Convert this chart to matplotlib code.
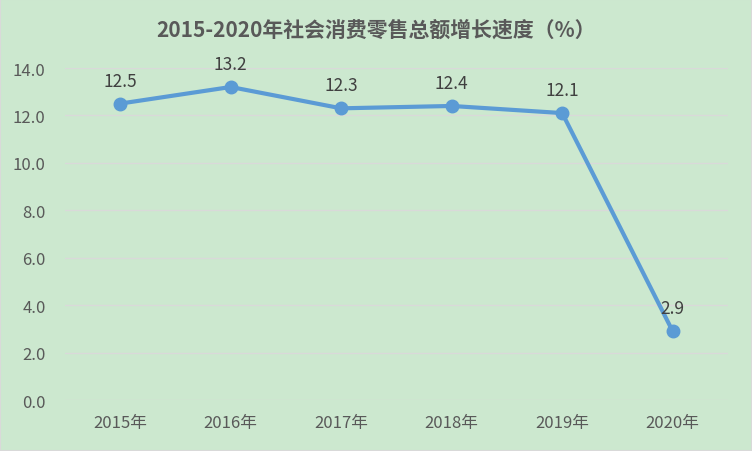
import matplotlib
matplotlib.use("Agg")
import matplotlib.pyplot as plt

plt.rcParams['font.family'] = ['Noto Sans CJK SC', 'DejaVu Sans']

years = ["2015年", "2016年", "2017年", "2018年", "2019年", "2020年"]
growth = [12.5, 13.2, 12.3, 12.4, 12.1, 2.9]
title = "2015-2020年社会消费零售总额增长速度（%）"

bg = "#CCE8CF"
fig = plt.figure(figsize=(7.52, 4.52), dpi=100, facecolor=bg)
fig.patches.append(plt.Rectangle((0, 0), 1, 1, transform=fig.transFigure,
                                 fill=False, edgecolor="#D9D9D9", linewidth=1.5))
ax = fig.add_axes([0.0864, 0.1128, 0.8816, 0.7345])
ax.set_facecolor(bg)

x = range(len(years))
ax.plot(x, growth, color="#5B9BD5", linewidth=3, marker="o", markersize=9, zorder=3)
for xi, v in zip(x, growth):
    ax.annotate(f"{v:.1f}", (xi, v), xytext=(0, 10), textcoords="offset points",
                ha="center", va="bottom", fontsize=12.5, color="#404040")

ax.set_xlim(-0.5, len(years) - 0.5)
ax.set_ylim(0, 14)
ax.set_yticks(range(0, 15, 2))
ax.set_yticklabels([f"{t:.1f}" for t in range(0, 15, 2)])
ax.set_xticks(list(x))
ax.set_xticklabels(years)
ax.tick_params(axis="both", length=0, labelsize=12, labelcolor="#595959")
ax.tick_params(axis="x", pad=10)
ax.tick_params(axis="y", pad=14)
ax.grid(axis="y", color="#D9D9D9", linewidth=1)
ax.set_axisbelow(True)
for s in ax.spines.values():
    s.set_visible(False)

fig.text(0.5, 0.934, title, ha="center", va="center", fontsize=15,
         fontweight="bold", color="#595959")

fig.savefig("out.png", dpi=100, facecolor=bg)
